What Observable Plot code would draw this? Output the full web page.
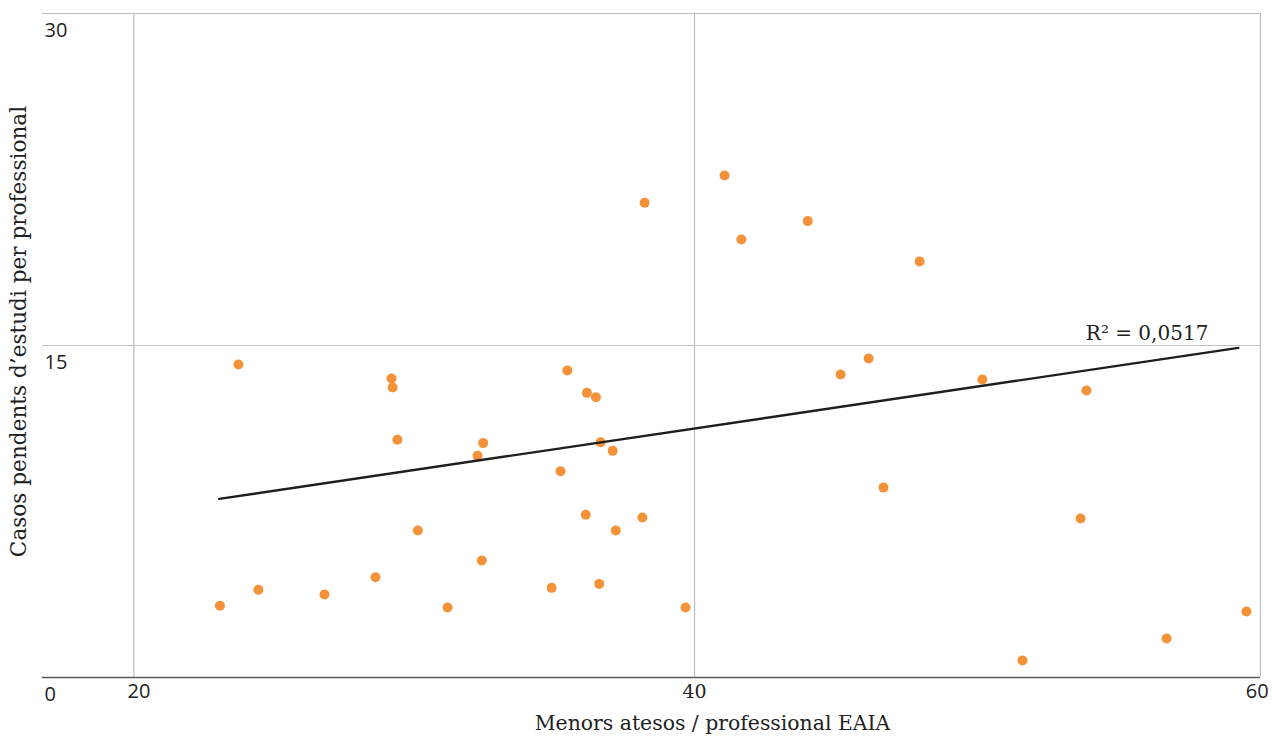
<!DOCTYPE html>
<html>
<head>
<meta charset="utf-8">
<script src="https://cdn.jsdelivr.net/npm/d3@7"></script>
<script src="https://cdn.jsdelivr.net/npm/@observablehq/plot@0.6"></script>
<style>
  html, body { margin: 0; padding: 0; background: #fff; }
  svg { display: block; }
</style>
</head>
<body>
<div id="chart"></div>
<script>
// Menors atesos / professional EAIA
const menorsAtesos = [23.07, 23.73, 24.44, 26.80, 28.62, 29.19, 29.23, 29.40, 30.13, 31.19,
  32.26, 32.41, 32.46, 34.90, 35.22, 35.46, 36.12, 36.16, 36.48, 36.60,
  36.65, 37.08, 37.19, 38.14, 38.22, 39.68, 41.07, 41.67, 44.04, 45.21,
  46.21, 46.74, 48.03, 50.27, 51.70, 53.77, 53.98, 56.84, 59.69];
// Casos pendents d'estudi per professional
const casosPendents = [3.24, 14.14, 3.96, 3.75, 4.53, 13.51, 13.10, 10.74, 6.64, 3.16,
  10.02, 5.29, 10.59, 4.05, 9.32, 13.87, 7.35, 12.86, 12.66, 4.23,
  10.63, 10.24, 6.64, 7.23, 21.45, 3.16, 22.68, 19.79, 20.62, 13.69,
  14.41, 8.58, 18.80, 13.46, 0.77, 7.18, 12.97, 1.76, 2.98];
// Linear trend line endpoints (as drawn)
const trendX = [23.04, 59.40];
const trendY = [8.07, 14.89];
const r2Label = "R\u00b2 = 0,0517";
const xTicks = [20, 40, 60];
const yTicks = [0, 15, 30];
const xDomain = [16.74, 60.19];
const yDomain = [0, 30];
const xTitle = "Menors atesos / professional EAIA";
const yTitle = "Casos pendents d\u2019estudi per professional";

const points = menorsAtesos.map((x, i) => ({x, y: casosPendents[i]}));
const trend = trendX.map((x, i) => ({x, y: trendY[i]}));

const sans = "'Open Sans', sans-serif";
const serif = "'DejaVu Serif', serif";
const grid = "#bfbfbf";

const chart = Plot.plot({
  width: 1272,
  height: 743,
  marginLeft: 42,
  marginRight: 12,
  marginTop: 13,
  marginBottom: 66,
  x: {domain: xDomain, axis: null},
  y: {domain: yDomain, axis: null},
  style: {background: "#fff"},
  marks: [
    // gridlines
    Plot.ruleX(xTicks.filter(d => d < 60), {x: d => d, stroke: grid, strokeWidth: 1.2, strokeOpacity: 1}),
    Plot.ruleX([xDomain[1]], {x: d => d, stroke: grid, strokeWidth: 1.2, strokeOpacity: 1}),
    Plot.ruleY(yTicks.filter(d => d > 0), {y: d => d, stroke: grid, strokeWidth: 1.2, strokeOpacity: 1}),
    Plot.ruleY([0], {y: d => d, stroke: "#595959", strokeWidth: 1.5, strokeOpacity: 1}),
    // points
    Plot.dot(points, {x: "x", y: "y", r: 5, fill: "#f4923a", stroke: "none"}),
    // trend line
    Plot.line(trend, {x: "x", y: "y", stroke: "#1e1e1e", strokeWidth: 2.4}),
    Plot.text([trend[1]], {x: "x", y: "y", text: () => r2Label, textAnchor: "end", dx: -30, dy: -14,
      fontFamily: serif, fontSize: 20, fill: "#222"}),
    // y tick labels
    Plot.text(yTicks, {y: d => d, frameAnchor: "left", text: d => String(d), textAnchor: "start",
      dx: 2, dy: 17, fontFamily: sans, fontSize: 20, fill: "#222"}),
    // x tick labels
    Plot.text(xTicks.filter(d => d === 20), {x: d => d, frameAnchor: "bottom", text: d => String(d),
      dx: 5, dy: 20, fontFamily: sans, fontSize: 20, fill: "#222"}),
    Plot.text(xTicks.filter(d => d === 40), {x: d => d, frameAnchor: "bottom", text: d => String(d),
      dy: 20, fontFamily: serif, fontSize: 19, fill: "#222"}),
    Plot.text(xTicks.filter(d => d === 60), {x: d => d, frameAnchor: "bottom", text: d => String(d),
      dx: 2, dy: 20, fontFamily: sans, fontSize: 20, fill: "#222"}),
    // axis titles
    Plot.text([xTitle], {frameAnchor: "bottom", text: d => d, textAnchor: "middle", dx: 61, dy: 52,
      fontFamily: serif, fontSize: 20.4, fill: "#222"}),
    Plot.text([yTitle], {frameAnchor: "left", text: d => d, textAnchor: "middle", rotate: -90, dx: -23, dy: -14,
      fontFamily: serif, fontSize: 21.6, fill: "#222"})
  ]
});
document.getElementById("chart").appendChild(chart);
</script>
</body>
</html>
